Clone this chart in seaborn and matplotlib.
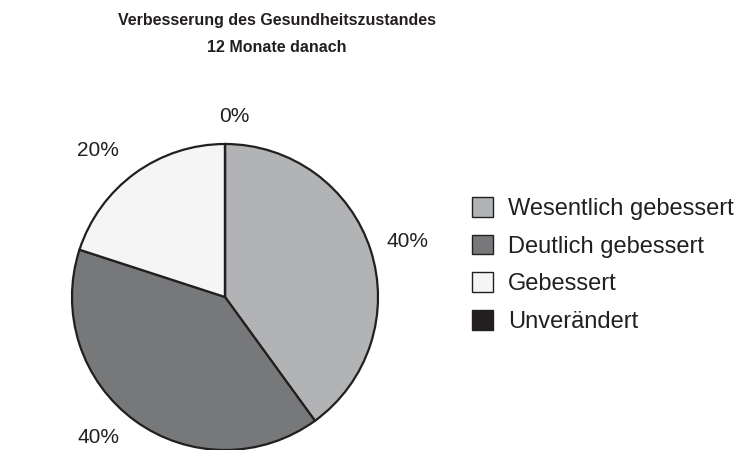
import numpy as np
import matplotlib
matplotlib.use('Agg')
import matplotlib.pyplot as plt
from matplotlib.patches import Patch
import seaborn as sns

# Data
categories = ["Wesentlich gebessert", "Deutlich gebessert", "Gebessert", "Unverändert"]
values = [40, 40, 20, 0]
colors = ["#b2b3b5", "#77787a", "#f5f5f5", "#231f20"]

# label placement (angle in degrees, distance in radii) - moved off the slice centres like the original
label_angles = [17, -132, 131, 87]
label_dist = [1.25, 1.24, 1.27, 1.18]

sns.set_style("white")
plt.rcParams['font.family'] = ['Liberation Sans', 'DejaVu Sans']

fig = plt.figure(figsize=(7.45, 4.5), dpi=100)
ax = fig.add_axes([225/745 - 153/745, (450-297-153)/450, 306/745, 306/450])

wedges, _ = ax.pie(values, colors=colors, startangle=90, counterclock=False,
                   wedgeprops=dict(edgecolor="#231f20", linewidth=1.6))
ax.set_xlim(-1, 1)
ax.set_ylim(-1, 1)
ax.set_aspect('equal')
ax.axis('off')

for v, a, d in zip(values, label_angles, label_dist):
    t = np.deg2rad(a)
    ax.text(d*np.cos(t), d*np.sin(t), f"{v}%", ha='center', va='center',
            fontsize=15, color="#231f20", clip_on=False)

fig.text(277/745, 1 - 20/450, "Verbesserung des Gesundheitszustandes",
         ha='center', va='center', fontsize=11.5, fontweight='bold', color="#231f20")
fig.text(277/745, 1 - 47/450, "12 Monate danach",
         ha='center', va='center', fontsize=11.5, fontweight='bold', color="#231f20")

handles = [Patch(facecolor=c, edgecolor="#231f20", linewidth=1.0) for c in colors]
fig.legend(handles, categories, loc='center left', bbox_to_anchor=(472/745, 1 - 265/450),
           frameon=False, fontsize=17, handlelength=0.9, handleheight=0.9,
           handletextpad=0.62, labelspacing=0.62, borderpad=0, borderaxespad=0,
           labelcolor="#231f20")

fig.savefig("out.png", dpi=100)
